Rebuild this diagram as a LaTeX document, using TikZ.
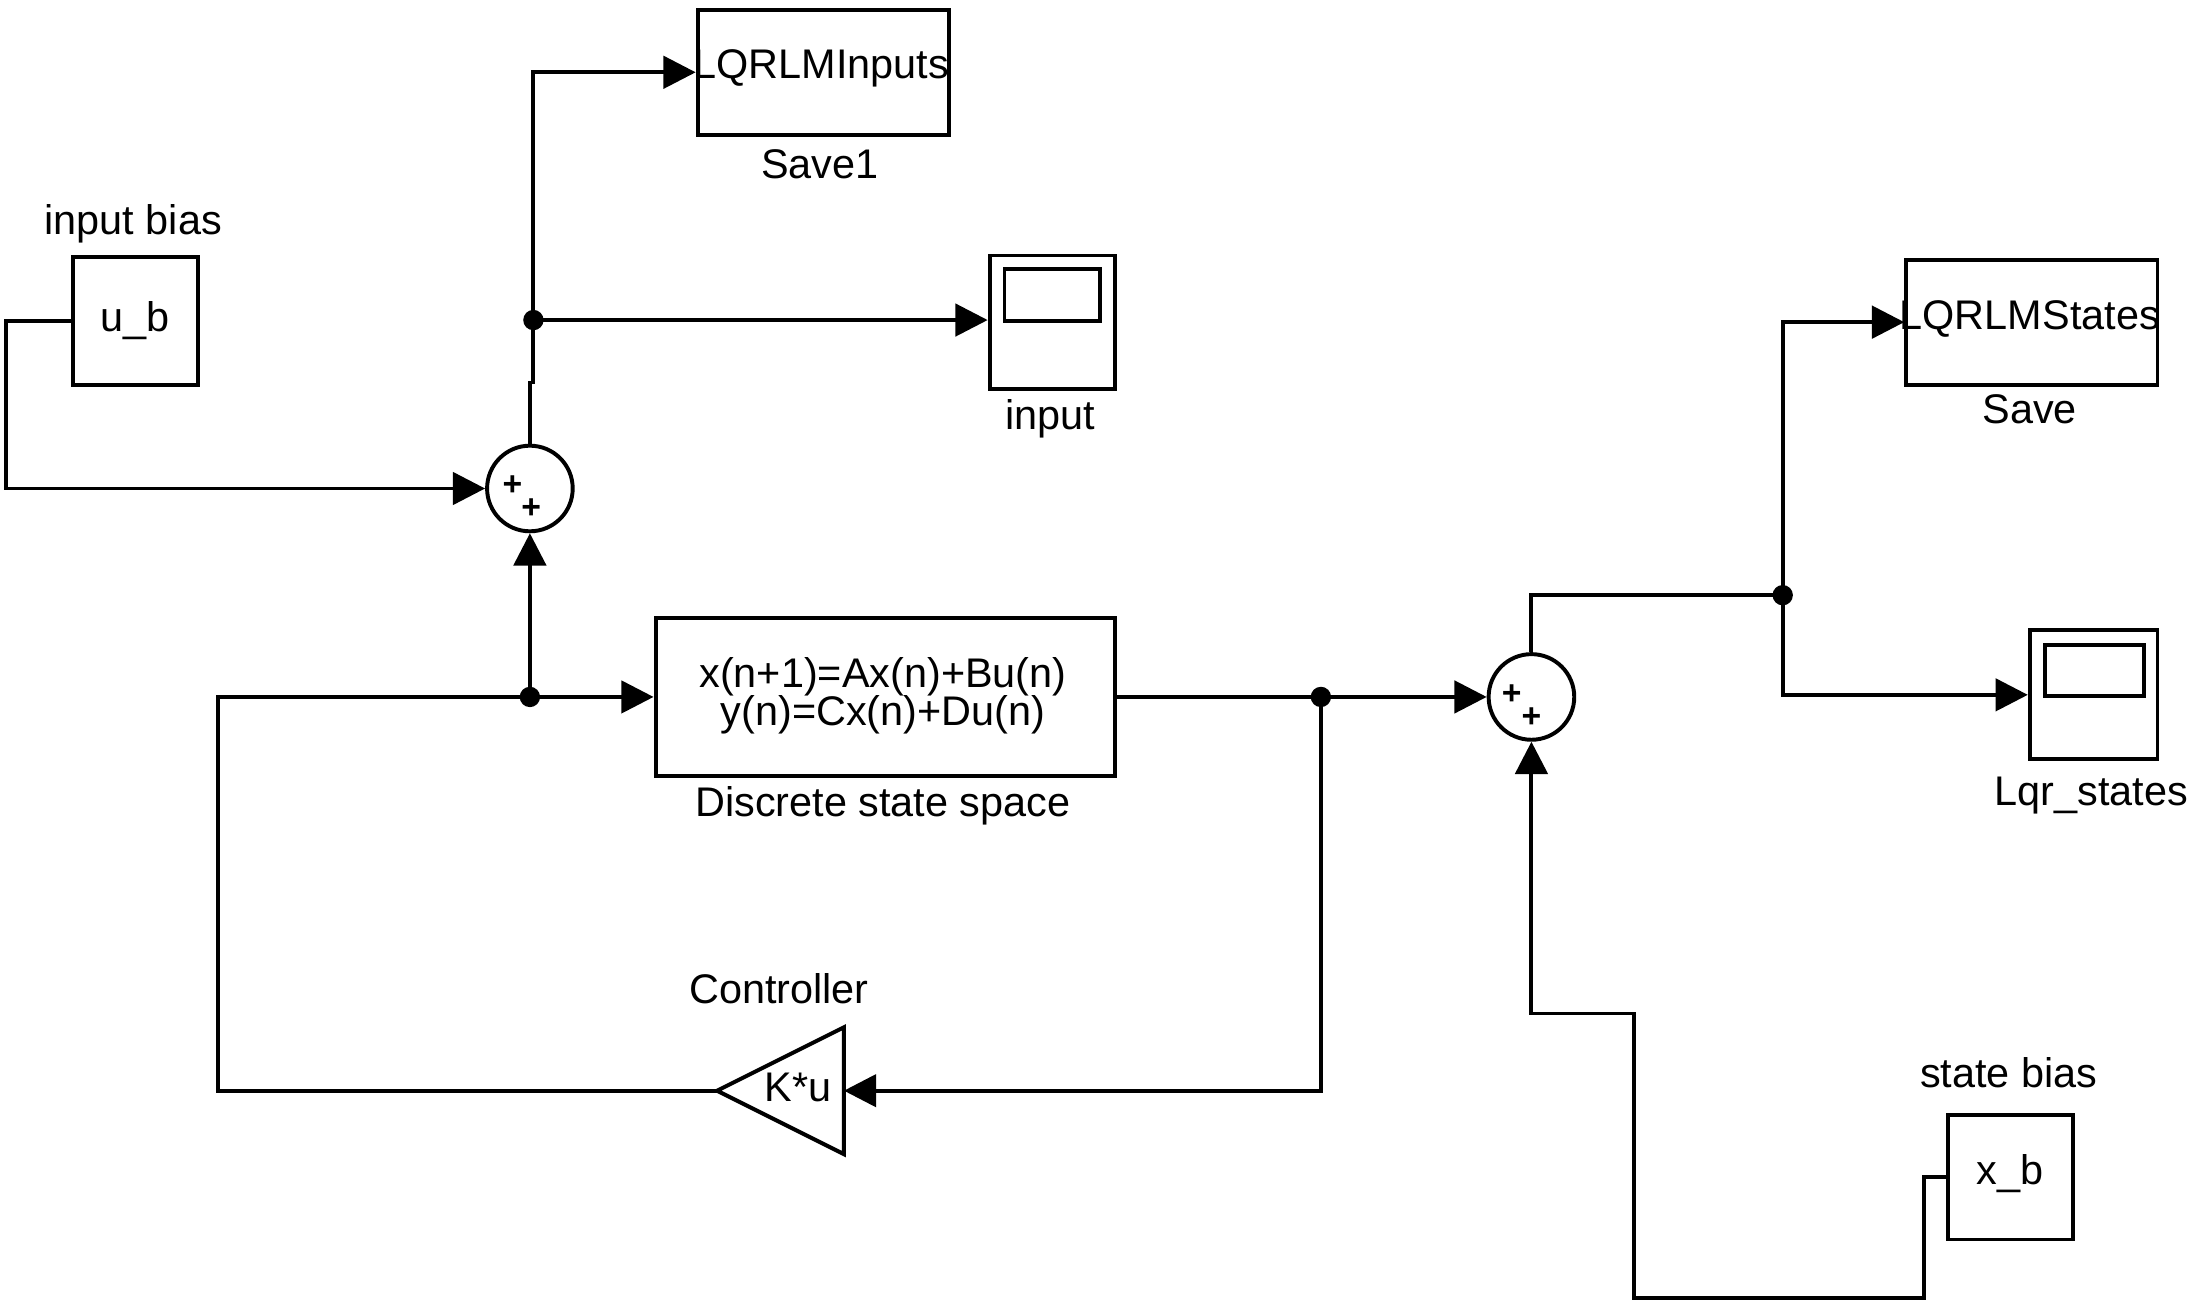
\documentclass[tikz,border=0pt]{standalone}
\usepackage{fontspec}
\setmainfont{Liberation Sans}
\usetikzlibrary{arrows.meta}
\newcommand\dgmfont{\fontsize{29.5}{27}\selectfont}
\newcommand\plusfont{\fontsize{24}{24}\selectfont\bfseries}
\begin{document}
\begin{tikzpicture}[x=1pt,y=-1pt,
  wire/.style={line width=2.8pt},
  sig/.style={wire,-{Triangle[length=23pt,width=23pt]}},
  blk/.style={draw,line width=2.8pt,inner sep=0pt,font=\dgmfont},
  lbl/.style={inner sep=0pt,anchor=base,font=\dgmfont},
  sumblk/.style={draw,circle,line width=2.8pt,minimum size=61,inner sep=0pt},
  plus/.style={inner sep=0pt,font=\plusfont},
  junction/.style={circle,fill,minimum width=13,minimum height=14.5,inner sep=0pt},
  scopeblk/.style={blk},
]
\useasboundingbox (0,0) rectangle (1568,932);

% ---- blocks ----
\node[blk,minimum width=179,minimum height=89] (save1) at (586.5,51.5) {};
\node[lbl] (save1var) at (585,56) {LQRLMInputs};
\node[lbl] (save1lbl) at (584,127) {Save1};

\node[blk,minimum width=89,minimum height=91] (ub) at (96.5,228.5) {};
\node[lbl] (ubtxt) at (96,236) {u\_b};
\node[lbl] (ublbl) at (95,167) {input bias};

\node[scopeblk,minimum width=89,minimum height=95] (scin) at (749.5,229.5) {};
\draw[line width=2.8pt] ([shift={(12,11)}]scin.north west) rectangle ([shift={(-12,48)}]scin.north east);
\node[lbl] (scinlbl) at (748,306) {input};

\node[sumblk] (sum1) at (377.5,348) {};
\node[plus] (sum1p1) at (365,346) {+};
\node[plus] (sum1p2) at (378.5,362) {+};

\node[blk,minimum width=327,minimum height=113] (dss) at (630.5,496.5) {};
\node[lbl] (dsseq1) at (629,490) {x(n+1)=Ax(n)+Bu(n)};
\node[lbl] (dsseq2) at (629,517) {y(n)=Cx(n)+Du(n)};
\node[lbl] (dsslbl) at (629,582) {Discrete state space};

\node[sumblk] (sum2) at (1091,496.5) {};
\node[plus] (sum2p1) at (1077,495) {+};
\node[plus] (sum2p2) at (1091,511) {+};

\node[inner sep=0pt,minimum width=90,minimum height=90] (gain) at (556,777) {};
\draw[line width=2.8pt,line join=miter] (gain.west) -- (gain.north east) -- (gain.south east) -- cycle;
\node[lbl] (gaintxt) at (568.5,785) {K*u};
\node[lbl] (gainlbl) at (555,715) {Controller};

\node[blk,minimum width=179,minimum height=89] (save) at (1447.5,229.5) {};
\node[lbl] (savevar) at (1446,235) {LQRLMStates};
\node[lbl] (savelbl) at (1446,302) {Save};

\node[scopeblk,minimum width=91,minimum height=92] (lqr) at (1491.5,495) {};
\draw[line width=2.8pt] ([shift={(12,12)}]lqr.north west) rectangle ([shift={(-11,48)}]lqr.north east);
\node[lbl] (lqrlbl) at (1490,574) {Lqr\_states};

\node[blk,minimum width=89,minimum height=89] (xb) at (1432.5,838.5) {};
\node[lbl] (xbtxt) at (1432,844) {x\_b};
\node[lbl] (xblbl) at (1431,775) {state bias};

% ---- junctions ----
\coordinate (d1) at (sum1 |- dss.west);
\coordinate (d2) at (380,228);
\coordinate (d3) at (941,496.5);
\coordinate (d4) at (1270,424);
\coordinate (gainin) at (gain.east);

% ---- signal lines ----
\draw[sig] (ub.west) -- ++(-46,0) |- (sum1.west);
\draw[sig] (d1) -- (sum1.south);
\draw[wire] (sum1.north) -- (377.5,272.5) -- (380,272.5) -- (d2);
\draw[sig] (d2) -- (scin.west |- d2);
\draw[sig] (d2) |- (save1.west);
\draw[sig] (gain.west) -- (155,777) |- (dss.west);
\draw[sig] (dss.east) -- (sum2.west);
\draw[sig] (d3) |- (gainin);
\draw[wire] (sum2.north) |- (d4);
\draw[sig] (d4) |- (save.west);
\draw[sig] (d4) |- (lqr.west);
\draw[sig] (xb.west) -- ++(-16,0) |- (1164,925) -- (1164,722) -| (sum2.south);

\node[junction] (j1) at (d1) {};
\node[junction] (j2) at (d2) {};
\node[junction] (j3) at (d3) {};
\node[junction] (j4) at (d4) {};
\end{tikzpicture}
\end{document}
